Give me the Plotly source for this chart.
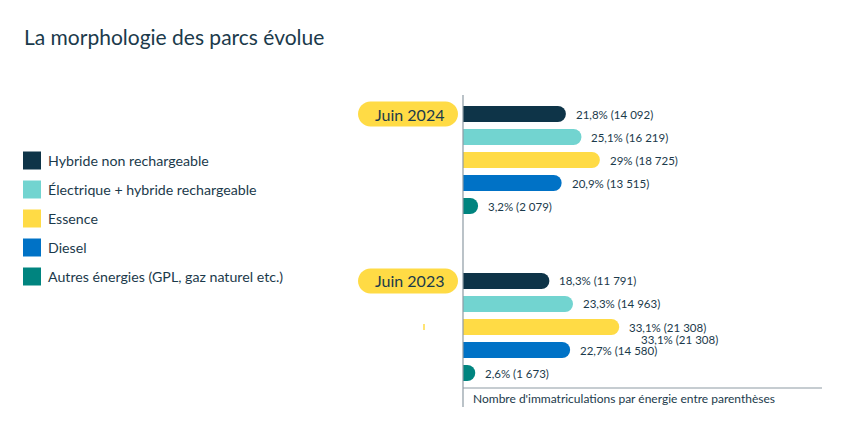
import plotly.graph_objects as go

# ---------------- data ----------------
years = ["Juin 2024", "Juin 2023"]
series = [
    "Hybride non rechargeable",
    "Électrique + hybride rechargeable",
    "Essence",
    "Diesel",
    "Autres énergies (GPL, gaz naturel etc.)",
]
colors = ["#0e3448", "#72d4d0", "#ffdb45", "#0072c6", "#00847f"]
pct_2024 = [21.8, 25.1, 29.0, 20.9, 3.2]
pct_2023 = [18.3, 23.3, 33.1, 22.7, 2.6]
count_2024 = [14092, 16219, 18725, 13515, 2079]
count_2023 = [11791, 14963, 21308, 14580, 1673]
title_text = "La morphologie des parcs évolue"
note_text = "Nombre d'immatriculations par énergie entre parenthèses"

pcts = [pct_2024, pct_2023]
counts = [count_2024, count_2023]

# ---------------- layout geometry (pixels) ----------------
W, H = 850, 438
L, R, T, B = 463, 822, 95, 388
SLOT = 23.0
GROUP_OFFSETS = [0.0, 7.26]
PX_PER_PCT = 4.72
TXT = "#1b3a4b"
TITLE_FONT = "Lato"
BODY_FONT = "Lato"


def xp(px):
    return (px - L) / (R - L)


def yp(py):
    return (B - py) / (B - T)


def fmt_pct(v):
    s = f"{v:.1f}"
    if s.endswith(".0"):
        s = s[:-2]
    return s.replace(".", ",") + "%"


def fmt_count(c):
    return f"{c:,}".replace(",", " ")


fig = go.Figure()
annotations = []
LABEL_FONT = dict(family=BODY_FONT, size=11.5, color=TXT)

for si, name in enumerate(series):
    ys = [GROUP_OFFSETS[g] + si for g in range(len(years))]
    xs = [pcts[g][si] for g in range(len(years))]
    fig.add_trace(
        go.Bar(
            x=xs,
            y=ys,
            orientation="h",
            width=0.7,
            marker=dict(color=colors[si], line=dict(width=0)),
            name=name,
            showlegend=False,
            hoverinfo="skip",
        )
    )
    for g in range(len(years)):
        label = f"{fmt_pct(pcts[g][si])} ({fmt_count(counts[g][si])})"
        annotations.append(
            dict(
                x=pcts[g][si], y=ys[g], xref="x", yref="y",
                text=label, showarrow=False, xanchor="left", yanchor="middle",
                xshift=8, font=LABEL_FONT,
            )
        )

# duplicated label seen in the reference (largest 2023 value)
g2023 = 1
imax = pct_2023.index(max(pct_2023))
annotations.append(
    dict(
        x=pct_2023[imax], y=GROUP_OFFSETS[g2023] + imax, xref="x", yref="y",
        text=f"{fmt_pct(pct_2023[imax])} ({fmt_count(count_2023[imax])})",
        showarrow=False, xanchor="left", yanchor="middle",
        xshift=20, yshift=-12, font=LABEL_FONT,
    )
)

shapes = []


def pill_path(x0, x1, h):
    r = h
    k = 0.5523 * r
    return (
        f"M {x0 + r} {-h} L {x1 - r} {-h} "
        f"C {x1 - r + k} {-h} {x1} {-k} {x1} 0 "
        f"C {x1} {k} {x1 - r + k} {h} {x1 - r} {h} "
        f"L {x0 + r} {h} "
        f"C {x0 + r - k} {h} {x0} {k} {x0} 0 "
        f"C {x0} {-k} {x0 + r - k} {-h} {x0 + r} {-h} Z"
    )


for g, yr in enumerate(years):
    shapes.append(
        dict(
            type="path", xref="paper", yref="y",
            xsizemode="pixel", ysizemode="pixel",
            xanchor=0, yanchor=GROUP_OFFSETS[g],
            path=pill_path(358 - L, 458 - L, 12.5),
            fillcolor="#ffdb45", line=dict(width=0), layer="below",
        )
    )
    annotations.append(
        dict(
            x=0, y=GROUP_OFFSETS[g], xref="paper", yref="y",
            xshift=409 - L, text=yr, showarrow=False,
            xanchor="center", yanchor="middle",
            font=dict(family=TITLE_FONT, size=16, color=TXT),
        )
    )

# axis lines
shapes.append(dict(type="line", xref="paper", yref="paper",
                   x0=0, x1=0, y0=yp(407), y1=yp(95),
                   line=dict(color="#8d9aa3", width=1.2)))
shapes.append(dict(type="line", xref="paper", yref="paper",
                   x0=0, x1=1, y0=0, y1=0,
                   line=dict(color="#8d9aa3", width=1)))
# small yellow artifact
shapes.append(dict(type="line", xref="paper", yref="paper",
                   x0=xp(424), x1=xp(424), y0=yp(324), y1=yp(330),
                   line=dict(color="#ffdb45", width=1.5)))

# legend (drawn manually)
legend_y = [160.5, 189.5, 218.5, 247.5, 276.5]
for si, name in enumerate(series):
    cy = legend_y[si]
    shapes.append(dict(type="rect", xref="paper", yref="paper",
                       x0=xp(23), x1=xp(41), y0=yp(cy + 9), y1=yp(cy - 9),
                       fillcolor=colors[si], line=dict(width=0)))
    annotations.append(dict(x=xp(46), y=yp(cy), xref="paper", yref="paper",
                            text=name, showarrow=False, xanchor="left", yanchor="middle",
                            font=dict(family=BODY_FONT, size=14.2, color=TXT)))

# title and note
annotations.append(dict(x=xp(22), y=yp(37), xref="paper", yref="paper",
                        text=title_text, showarrow=False, xanchor="left", yanchor="middle",
                        font=dict(family=TITLE_FONT, size=21, color=TXT)))
annotations.append(dict(x=xp(471), y=yp(399), xref="paper", yref="paper",
                        text=note_text, showarrow=False, xanchor="left", yanchor="middle",
                        font=dict(family=TITLE_FONT, size=12, color=TXT)))

y_top = -(114 - T) / SLOT
y_bot = GROUP_OFFSETS[-1] + len(series) - 1 + (B - 373) / SLOT

fig.update_layout(
    width=W, height=H,
    margin=dict(l=L, r=W - R, t=T, b=H - B, pad=0),
    paper_bgcolor="white", plot_bgcolor="white",
    barmode="overlay", barcornerradius=8,
    xaxis=dict(range=[0, (R - L) / PX_PER_PCT], visible=False, fixedrange=True),
    yaxis=dict(range=[y_bot, y_top], visible=False, fixedrange=True),
    shapes=shapes, annotations=annotations,
    showlegend=False,
)

fig.write_html("out.html", config={"displayModeBar": False})
